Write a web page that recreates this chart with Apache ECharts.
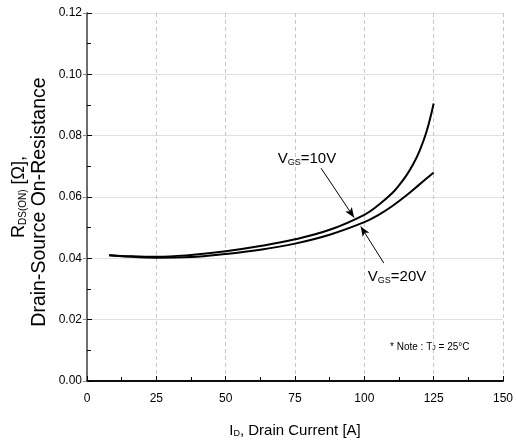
<!DOCTYPE html>
<html><head><meta charset="utf-8">
<script src="https://cdn.jsdelivr.net/npm/echarts@6/dist/echarts.min.js"></script>
<style>html,body{margin:0;padding:0;background:#fff}#c{width:516px;height:443px}</style>
</head><body><div id="c"></div>
<script>
const current10 = [8, 12.5, 25, 37.5, 50, 62.5, 75, 87.5, 100, 105, 110, 112.5, 115, 117.5, 120, 122.5, 125];
const vgs10 = [0.0410, 0.0408, 0.0405, 0.0411, 0.0423, 0.0440, 0.0462, 0.0493, 0.0542, 0.0573, 0.0612, 0.0638, 0.0668, 0.0705, 0.0752, 0.0815, 0.0905];
const current20 = [8, 12.5, 25, 37.5, 50, 62.5, 75, 87.5, 100, 105, 110, 115, 120, 122.5, 125];
const vgs20 = [0.0410, 0.0407, 0.0402, 0.0404, 0.0414, 0.0428, 0.0448, 0.0477, 0.0518, 0.0541, 0.0570, 0.0604, 0.0642, 0.0661, 0.0680];
const xTicks = [0, 25, 50, 75, 100, 125, 150];
const yTicks = [0.00, 0.02, 0.04, 0.06, 0.08, 0.10, 0.12];

const SANS = "'Liberation Sans',Arial,sans-serif";

const chart = echarts.init(document.getElementById('c'), null, {renderer: 'canvas'});
const pair = (xs, ys) => xs.map((x, i) => [x, ys[i]]);

chart.setOption({
  animation: false,
  backgroundColor: '#fff',
  grid: {left: 87, right: 10, top: 13, bottom: 59},
  xAxis: [{
    type: 'value', min: 0, max: 150, interval: 25,
    axisLine: {show: true, lineStyle: {color: '#000', width: 1.5}},
    axisTick: {show: true, inside: true, length: 5, lineStyle: {color: '#000'}},
    axisLabel: {color: '#000', fontFamily: SANS, fontSize: 12, margin: 12,
      formatter: v => xTicks.includes(v) ? String(v) : ''},
    splitLine: {show: true, lineStyle: {color: '#c8c8c8', type: [4, 3], width: 1}},
    name: '{n|I}{s|D}{n|, Drain Current [A]}',
    nameLocation: 'middle', nameGap: 37, nameMoveOverlap: false,
    nameTextStyle: {rich: {
      n: {fontFamily: SANS, fontSize: 15, color: '#000', lineHeight: 20, verticalAlign: 'bottom'},
      s: {fontFamily: SANS, fontSize: 9, color: '#000', lineHeight: 20, verticalAlign: 'bottom', padding: [8, 0, 0, 0]}
    }}
  }, {
    type: 'value', min: 0, max: 150, position: 'top',
    axisLine: {show: true, lineStyle: {color: '#000', width: 1.5}},
    axisTick: {show: false}, axisLabel: {show: false}, splitLine: {show: false}
  }, {
    type: 'value', min: 0, max: 150, interval: 12.5, position: 'bottom',
    axisLine: {show: false},
    axisTick: {show: true, inside: true, length: 4, lineStyle: {color: '#000'}},
    axisLabel: {show: false}, splitLine: {show: false}
  }],
  yAxis: [{
    type: 'value', min: 0, max: 0.12, interval: 0.02,
    axisLine: {show: true, lineStyle: {color: '#666', width: 1.5}},
    axisTick: {show: true, inside: true, length: 5, lineStyle: {color: '#000'}},
    axisLabel: {color: '#000', fontFamily: SANS, fontSize: 12, margin: 5,
      formatter: v => yTicks.some(t => Math.abs(t - v) < 1e-9) ? v.toFixed(2) : ''},
    splitLine: {show: true, lineStyle: {color: '#e0e0e0', width: 1}},
    name: '{n|R}{s|DS(ON)}{n| [Ω],}\n{m|Drain-Source On-Resistance}',
    nameLocation: 'middle', nameGap: 37, nameRotate: 90, nameMoveOverlap: false,
    nameTextStyle: {align: 'center', rich: {
      n: {fontFamily: SANS, fontSize: 18, color: '#000', lineHeight: 22, verticalAlign: 'bottom'},
      m: {fontFamily: SANS, fontSize: 19.5, color: '#000', lineHeight: 22, verticalAlign: 'bottom', padding: [0, 10, 0, 0]},
      s: {fontFamily: SANS, fontSize: 10, color: '#000', lineHeight: 22, verticalAlign: 'bottom', padding: [8, 0, 0, 0]}
    }}
  }, {
    type: 'value', min: 0, max: 0.12, interval: 0.02, position: 'right',
    axisLine: {show: true, lineStyle: {color: '#666', width: 1.5}},
    axisTick: {show: true, inside: true, length: 4, lineStyle: {color: '#888'}},
    axisLabel: {show: false}, splitLine: {show: false}
  }, {
    type: 'value', min: 0, max: 0.12, interval: 0.01, position: 'left',
    axisLine: {show: false},
    axisTick: {show: true, inside: true, length: 4, lineStyle: {color: '#000'}},
    axisLabel: {show: false}, splitLine: {show: false}
  }],
  series: [{
    name: 'VGS=10V', type: 'line', data: pair(current10, vgs10), smooth: 0.4,
    showSymbol: false, lineStyle: {color: '#000', width: 2}, z: 5,
    markLine: {
      silent: true, symbol: ['none', 'arrow'], symbolSize: [6, 10],
      lineStyle: {color: '#000', width: 1, type: 'solid'}, label: {show: false},
      data: [
        [{coord: [84.4, 0.0694]}, {coord: [96.3, 0.0533]}],
        [{coord: [107.0, 0.0385]}, {coord: [98.7, 0.0504]}]
      ]
    },
    markPoint: {
      silent: true, symbol: 'circle', symbolSize: 0,
      label: {show: true, position: 'inside', color: '#000',
        rich: {
          n: {fontFamily: SANS, fontSize: 15, color: '#000', lineHeight: 20, verticalAlign: 'bottom'},
          s: {fontFamily: SANS, fontSize: 9, color: '#000', lineHeight: 20, verticalAlign: 'bottom', padding: [9, 0, 0, 0]},
          m: {fontFamily: SANS, fontSize: 10, color: '#000', lineHeight: 16, verticalAlign: 'bottom'},
          ms: {fontFamily: SANS, fontSize: 7, color: '#000', lineHeight: 16, verticalAlign: 'bottom', padding: [6, 0, 0, 0]}
        }},
      data: [
        {coord: [79.3, 0.0731], label: {formatter: '{n|V}{s|GS}{n|=10V}'}},
        {coord: [111.8, 0.0347], label: {formatter: '{n|V}{s|GS}{n|=20V}'}},
        {coord: [123.6, 0.0121], label: {formatter: '{m|* Note : T}{ms|J}{m| = 25°C}'}}
      ]
    }
  }, {
    name: 'VGS=20V', type: 'line', data: pair(current20, vgs20), smooth: 0.4,
    showSymbol: false, lineStyle: {color: '#000', width: 2}, z: 5
  }]
});
</script></body></html>
